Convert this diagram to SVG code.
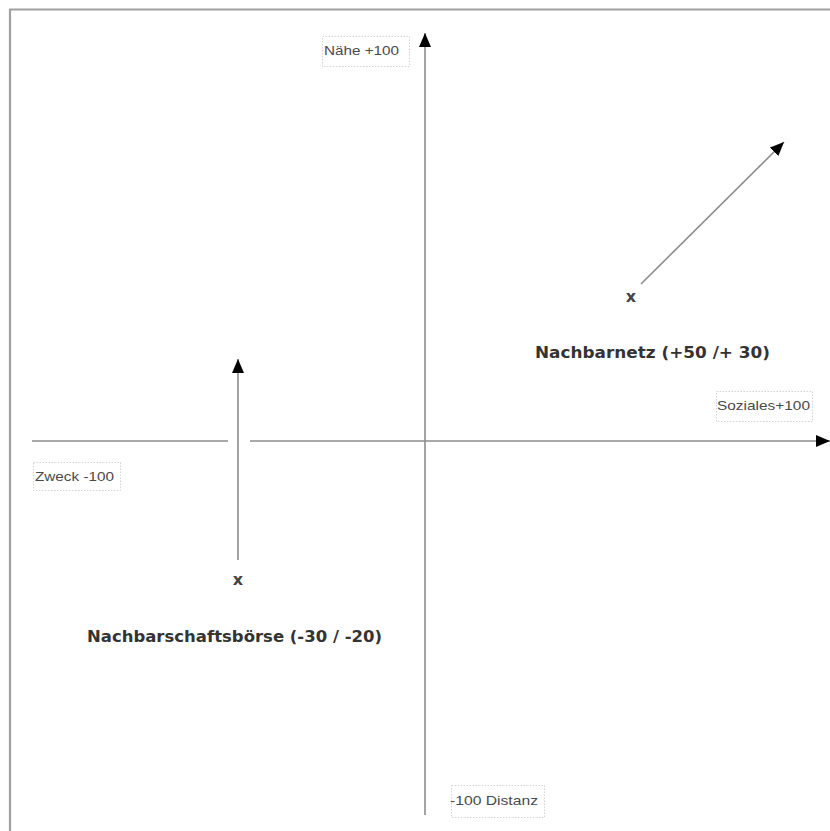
<svg xmlns="http://www.w3.org/2000/svg" width="830" height="831" viewBox="0 0 830 831">
<style>
.ax{stroke:#8c8c8c;stroke-width:1.6;fill:none}
.lbl{fill:#fff;stroke:#d4d4d4;stroke-width:1;stroke-dasharray:1.5 1.5}
.lt{font-family:"Liberation Sans",Arial,sans-serif;font-size:13.5px;fill:#4a4a4a}
.big{font-family:"DejaVu Sans",Verdana,sans-serif;font-size:15.5px;font-weight:bold;fill:#333}
.x{font-family:"DejaVu Sans",Verdana,sans-serif;font-size:16px;font-weight:bold;fill:#444}
</style>
<defs>
<marker id="ah" markerWidth="14" markerHeight="12" refX="14" refY="6" orient="auto" markerUnits="userSpaceOnUse" viewBox="0 0 14 12">
<path d="M0,0 L14,6 L0,12 Z" fill="#000"/>
</marker>
</defs>
<rect width="830" height="831" fill="#fff"/>
<g id="frame">
<line x1="9" y1="9.5" x2="830" y2="9.5" stroke="#a0a0a0" stroke-width="2.2"/>
<line x1="10" y1="9" x2="10" y2="831" stroke="#a0a0a0" stroke-width="2.2"/>
</g>
<g id="connectors">
<line class="ax" x1="425" y1="815" x2="425" y2="33" marker-end="url(#ah)"/>
<line class="ax" x1="250" y1="441" x2="830" y2="441" marker-end="url(#ah)"/>
<line class="ax" x1="32" y1="441" x2="228" y2="441"/>
<line class="ax" x1="238" y1="560" x2="238" y2="359" marker-end="url(#ah)"/>
<line class="ax" x1="641" y1="284" x2="784" y2="142" marker-end="url(#ah)"/>
</g>
<g id="label-naehe">
<rect class="lbl" x="322.5" y="36.5" width="87" height="30"/>
<text class="lt" x="324" y="55" textLength="75" lengthAdjust="spacingAndGlyphs">Nähe +100</text>
</g>
<g id="label-soziales">
<rect class="lbl" x="716.5" y="391.5" width="96" height="30"/>
<text class="lt" x="717" y="410" textLength="93" lengthAdjust="spacingAndGlyphs">Soziales+100</text>
</g>
<g id="label-zweck">
<rect class="lbl" x="33.5" y="462.5" width="87" height="28"/>
<text class="lt" x="35" y="481" textLength="79" lengthAdjust="spacingAndGlyphs">Zweck -100</text>
</g>
<g id="label-distanz">
<rect class="lbl" x="451.5" y="785.5" width="93" height="32"/>
<text class="lt" x="450" y="805" textLength="88" lengthAdjust="spacingAndGlyphs">-100 Distanz</text>
</g>
<g id="node-nachbarnetz">
<text class="x" x="631" y="302" text-anchor="middle">x</text>
<text class="big" x="535" y="358" textLength="235" lengthAdjust="spacingAndGlyphs">Nachbarnetz (+50 /+ 30)</text>
</g>
<g id="node-nachbarschaftsboerse">
<text class="x" x="238" y="585" text-anchor="middle">x</text>
<text class="big" x="87" y="642" textLength="295" lengthAdjust="spacingAndGlyphs">Nachbarschaftsbörse (-30 / -20)</text>
</g>
</svg>
